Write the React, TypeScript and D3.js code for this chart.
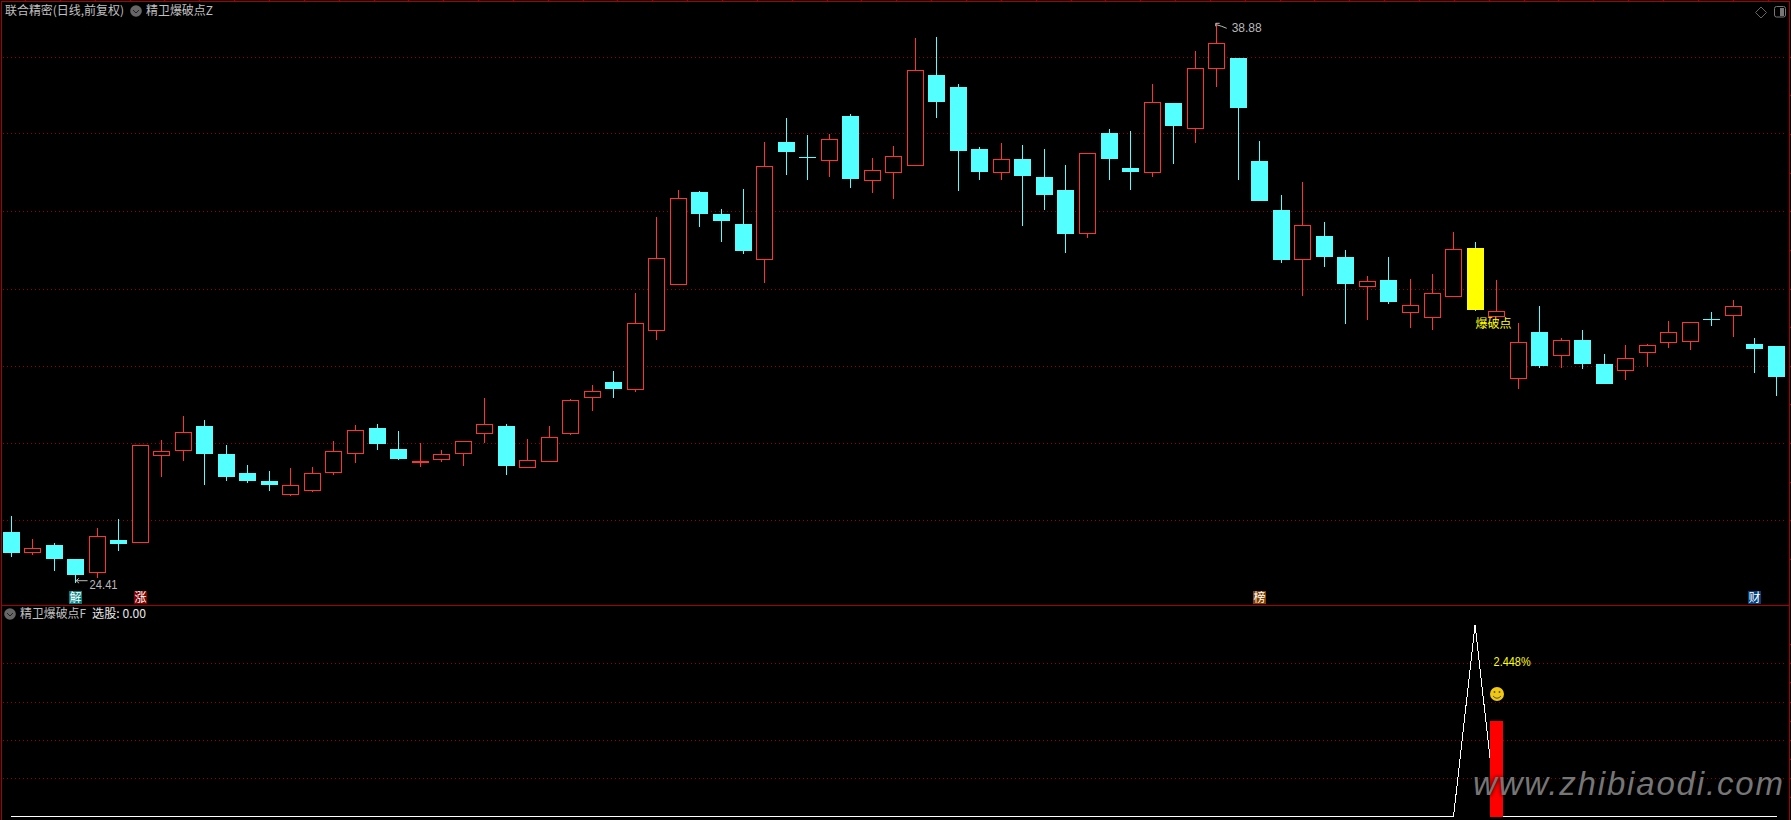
import React from "react";
import * as d3 from "d3";

const highs = [26.14,25.54,25.44,25.02,25.82,26.06,27.97,28.10,28.72,28.62,
27.97,27.45,27.30,27.38,27.40,28.08,28.49,28.51,28.33,28.02,
27.84,28.08,29.19,28.51,28.13,28.46,29.16,29.52,29.89,31.90,
33.87,34.56,34.53,34.08,34.59,35.81,36.43,35.99,36.01,36.53,
35.40,35.71,38.50,38.53,37.31,35.68,35.78,35.73,35.63,35.21,
35.52,36.15,36.09,37.31,36.82,38.16,38.88,37.98,35.84,34.44,
34.78,33.74,33.02,32.34,32.84,32.27,32.40,33.48,33.22,32.24,
31.13,31.57,30.74,30.95,30.33,30.56,30.59,31.18,31.15,31.41,
31.72,30.74,30.53];
const opens = [25.72,25.21,25.38,25.02,24.67,25.51,25.45,27.70,27.83,28.46,
27.74,27.25,27.04,26.71,26.82,27.26,27.75,28.41,27.87,27.52,
27.59,27.77,28.29,28.46,27.41,27.54,28.27,29.20,29.60,29.40,
30.93,32.13,34.52,33.95,33.69,32.77,35.81,35.42,35.35,36.48,
34.81,35.02,35.20,37.54,37.23,35.63,35.02,35.37,34.90,34.57,
33.44,36.04,35.14,35.02,36.82,36.18,37.71,37.98,35.32,34.05,
32.77,33.38,32.84,32.07,32.24,31.42,31.29,31.81,33.07,31.29,
29.71,30.90,30.28,30.69,30.07,29.90,30.36,30.62,30.67,31.23,
31.32,30.59,30.53];
const closes = [25.18,25.32,25.02,24.61,25.61,25.41,27.97,27.81,28.30,27.74,
27.14,27.04,26.94,26.95,27.26,27.81,28.35,28.00,27.61,27.55,
27.73,28.07,28.51,27.43,27.58,28.17,29.13,29.36,29.42,31.12,
32.80,34.35,33.95,33.77,32.99,35.18,35.55,35.40,35.90,34.85,
35.08,35.44,37.66,36.84,35.58,35.03,35.36,34.93,34.44,33.43,
35.52,35.37,35.03,36.84,36.22,37.72,38.36,36.69,34.28,32.76,
33.65,32.84,32.14,32.21,31.67,31.59,31.90,33.03,31.46,31.43,
30.63,30.02,30.68,30.07,29.55,30.21,30.55,30.89,31.15,31.21,
31.56,30.46,29.73];
const lows = [25.08,25.13,24.72,24.41,24.54,25.24,25.45,27.15,27.57,26.95,
27.05,27.00,26.79,26.64,26.76,27.20,27.51,27.84,27.58,27.39,
27.54,27.44,28.02,27.20,27.38,27.54,28.23,28.85,29.19,29.34,
30.69,32.13,33.61,33.22,32.91,32.16,34.96,34.83,34.90,34.62,
34.49,34.34,35.20,36.43,34.54,34.83,34.83,33.64,34.05,32.94,
33.33,34.83,34.57,34.90,35.24,35.78,37.23,34.83,34.28,32.68,
31.83,32.58,31.10,31.21,31.62,31.00,30.95,31.81,31.44,31.29,
29.42,29.96,29.96,29.94,29.55,29.65,29.99,30.48,30.43,31.05,
30.77,29.84,29.24];

const signalLine = [0,0,0,0,0,0,0,0,0,0,0,0,0,0,0,0,0,0,0,0,
0,0,0,0,0,0,0,0,0,0,0,0,0,0,0,0,0,0,0,0,
0,0,0,0,0,0,0,0,0,0,0,0,0,0,0,0,0,0,0,0,
0,0,0,0,0,0,0,0,100,0,0,0,0,0,0,0,0,0,0,0,
0,0,0];
const barIndex = 69;
const barValue = 50;
const breakIndex = 68;

const priceGrid = [38.02,36.03,34.02,32.02,30.01,28.02,26.02];
const subGrid = [80,60,40,20];
const badges = [
  { i: 3, text: "解", bg: "#008080" },
  { i: 6, text: "涨", bg: "#800000" },
  { i: 58, text: "榜", bg: "#804000" },
  { i: 81, text: "财", bg: "#004080" },
];
const mainTitle = "联合精密(日线,前复权)";
const indicatorTitle = "精卫爆破点Z";
const subTitle = "精卫爆破点F";
const subValue = "选股: 0.00";

const W = 1791, H = 820;
const frame = "#a80000";
const gridColor = "#9a0000";
const up = "#ff3232";
const down = "#54ffff";
const cjk = "'Noto Sans CJK SC', sans-serif";
const latin = "'Liberation Sans', Arial, sans-serif";

const x = d3.scaleLinear().domain([0, 82]).range([11, 1776.5]);
const y = d3.scaleLinear().domain([24.41, 38.88]).range([582.7, 23.3]);
const y2 = d3.scaleLinear().domain([0, 100]).range([816.5, 625]);

const lineGen = d3.line<number>().x((_, i) => x(i)).y((d) => y2(d));

function Badge({ i, text, bg }: { i: number; text: string; bg: string }) {
  const cx = Math.floor(x(i));
  return (
    <g>
      <rect x={cx - 6} y={591} width={13} height={13} fill={bg} />
      <text x={cx + 0.5} y={602} fontSize={12} fill="#fff" textAnchor="middle" fontFamily={cjk}>{text}</text>
    </g>
  );
}

function ChevronIcon({ cx, cy }: { cx: number; cy: number }) {
  return (
    <g>
      <circle cx={cx} cy={cy} r={5.8} fill="#666" />
      <path d={`M${cx - 3},${cy - 1} L${cx},${cy + 2} L${cx + 3},${cy - 1}`} fill="none" stroke="#222" strokeWidth={1} />
    </g>
  );
}

export default function App() {
  const hi = (i: number) => y(highs[i]);
  const lo = (i: number) => y(lows[i]);
  const topTicks = d3.range(25, 1780, 34.85);
  const rightTicks = d3.range(25.02, 39, 1);
  const subTicks = d3.range(10, 100, 10);
  return (
    <svg width={W} height={H} viewBox={`0 0 ${W} ${H}`} style={{ position: "absolute", left: 0, top: 0, display: "block", background: "#000" }}>
      <defs>
        <filter id="wmShadow" x="-5%" y="-30%" width="110%" height="160%">
          <feGaussianBlur stdDeviation="2.2" />
        </filter>
      </defs>
      <rect width={W} height={H} fill="#000" />

      {/* grid */}
      <g shapeRendering="crispEdges">
        {priceGrid.map((p) => (
          <line key={p} x1={3} x2={1786} y1={Math.round(y(p)) + 0.5} y2={Math.round(y(p)) + 0.5} stroke={gridColor} strokeDasharray="1 3" />
        ))}
        {subGrid.map((v) => (
          <line key={v} x1={3} x2={1786} y1={Math.round(y2(v)) + 0.5} y2={Math.round(y2(v)) + 0.5} stroke={gridColor} strokeDasharray="1 3" />
        ))}
      </g>

      {/* frame */}
      <g shapeRendering="crispEdges" stroke={frame}>
        <line x1={1} x2={1790} y1={1.5} y2={1.5} />
        <line x1={1.5} x2={1.5} y1={1} y2={H} />
        <line x1={1789.5} x2={1789.5} y1={1} y2={H} />
        <line x1={1} x2={1790} y1={605.5} y2={605.5} />
        {topTicks.map((t) => <line key={t} x1={Math.round(t) + 0.5} x2={Math.round(t) + 0.5} y1={0} y2={2} />)}
        {rightTicks.map((p) => <line key={p} x1={1789} x2={1791} y1={Math.round(y(p)) + 0.5} y2={Math.round(y(p)) + 0.5} />)}
        {subTicks.map((v) => <line key={v} x1={1789} x2={1791} y1={Math.round(y2(v)) + 0.5} y2={Math.round(y2(v)) + 0.5} />)}
      </g>

      {/* candles */}
      <g shapeRendering="crispEdges">
        {opens.map((o, i) => {
          const c = closes[i];
          const rising = c > o;
          const cx = Math.floor(x(i));
          const top = y(Math.max(o, c));
          const bot = y(Math.min(o, c));
          const wick = rising ? up : down;
          const fill = i === breakIndex ? "#ffff00" : down;
          const bh = bot - top;
          return (
            <g key={i}>
              <line x1={cx + 0.5} x2={cx + 0.5} y1={hi(i)} y2={top} stroke={wick} />
              <line x1={cx + 0.5} x2={cx + 0.5} y1={bot} y2={lo(i)} stroke={wick} />
              {rising ? (
                <rect x={cx - 7.5} y={Math.round(top) + 0.5} width={16} height={Math.max(1, Math.round(bh))} fill="#000" stroke={up} />
              ) : (
                <rect x={cx - 8} y={Math.round(top)} width={17} height={Math.max(1, Math.round(bh))} fill={fill} />
              )}
            </g>
          );
        })}
      </g>

      {/* price labels */}
      <g fill="none" stroke="#b8b8b8" strokeWidth={1}>
        <path d={`M${x(3) + 0.5},${lo(3) - 2} L${x(3) + 12},${lo(3) - 2} M${x(3) + 0.5},${lo(3) - 2} L${x(3) + 3.5},${lo(3) - 4.5} M${x(3) + 0.5},${lo(3) - 2} L${x(3) + 3.5},${lo(3) + 0.5}`} />
        <path d={`M${x(56) - 1},${hi(56)} L${x(56) + 3},${hi(56)} M${x(56) - 1},${hi(56)} L${x(56) - 1},${hi(56) + 3} M${x(56)},${hi(56) + 1.5} L${x(56) + 5},${hi(56) + 3} L${x(56) + 10},${hi(56) + 5}`} />
      </g>
      <text x={x(3) + 14} y={588.5} fontSize={12} fill="#b8b8b8" fontFamily={latin} textLength={28} lengthAdjust="spacingAndGlyphs">24.41</text>
      <text x={x(56) + 15} y={32} fontSize={12} fill="#b8b8b8" fontFamily={latin} textLength={30} lengthAdjust="spacingAndGlyphs">38.88</text>

      <text x={x(barIndex) - 21} y={328} fontSize={12} fill="#ffff00" fontFamily={cjk}>爆破点</text>

      {/* badges */}
      {badges.map((b) => <Badge key={b.text} {...b} />)}

      {/* header */}
      <text x={5} y={15} fontSize={12} fill="#c0c0c0" fontFamily={cjk} textLength={119} lengthAdjust="spacingAndGlyphs">{mainTitle}</text>
      <ChevronIcon cx={136} cy={11} />
      <text x={146} y={15} fontSize={12} fill="#c0c0c0" fontFamily={cjk} textLength={67} lengthAdjust="spacingAndGlyphs">{indicatorTitle}</text>
      <ChevronIcon cx={10} cy={614} />
      <text x={20} y={618} fontSize={12} fill="#c0c0c0" fontFamily={cjk} textLength={66} lengthAdjust="spacingAndGlyphs">{subTitle}</text>
      <text x={92} y={618} fontSize={12} fill="#e8e8e8" fontFamily={cjk} textLength={54} lengthAdjust="spacingAndGlyphs">{subValue}</text>

      {/* top-right icons */}
      <path d="M1761,7 L1766.5,12.5 L1761,18 L1755.5,12.5 Z" fill="none" stroke="#666" />
      <rect x={1774.5} y={6.5} width={11} height={10.5} rx={2} fill="none" stroke="#777" />
      <rect x={1780} y={8} width={4} height={8} fill="#777" />

      {/* indicator line and bar */}
      <path d={lineGen(signalLine) ?? ""} fill="none" stroke="#fff" strokeWidth={1} shapeRendering="crispEdges" />
      <rect x={Math.floor(x(barIndex)) - 6} y={y2(barValue)} width={13} height={y2(0) - y2(barValue) + 0.5} fill="#ff0000" shapeRendering="crispEdges" />
      <text x={x(barIndex) - 3} y={666} fontSize={12} fill="#ffff00" fontFamily={latin} textLength={37} lengthAdjust="spacingAndGlyphs">2.448%</text>
      <g>
        <circle cx={1497} cy={694} r={7} fill="#f0c814" />
        <circle cx={1494.5} cy={692} r={0.9} fill="#553" />
        <circle cx={1499.5} cy={692} r={0.9} fill="#553" />
        <path d="M1493,696 Q1497,700.5 1501,696" fill="none" stroke="#553" strokeWidth={1} />
      </g>

      {/* watermark */}
      <g fontFamily={latin} fontStyle="italic" fontSize={33}>
        <text x={1473} y={795} fill="#000" filter="url(#wmShadow)" textLength={310} lengthAdjust="spacing">www.zhibiaodi.com</text>
        <text x={1473} y={795} fill="#767676" textLength={310} lengthAdjust="spacing">www.zhibiaodi.com</text>
      </g>
    </svg>
  );
}
